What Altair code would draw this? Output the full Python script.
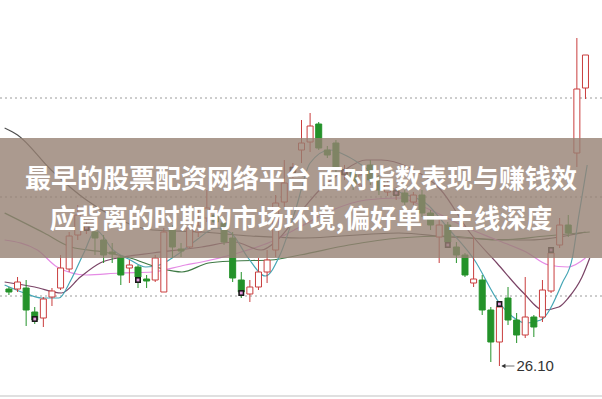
import altair as alt
import pandas as pd

# ---------------- data ----------------
opens = [26.87, 26.87, 26.88, 26.64, 26.58, 26.79, 26.88, 27.07, 27.41, 27.46,
         27.44, 27.36, 27.24, 27.19, 27.08, 27.09, 26.97, 26.96, 26.84, 27.46,
         27.27, 27.29, 27.44, 27.58, 27.61, 27.53, 27.38, 26.96, 26.82, 26.89,
         27.04, 27.26, 27.74, 28.04, 28.26, 28.34, 28.52, 28.26, 28.33, 28.01,
         28.04, 27.91, 28.11, 27.96, 27.84, 27.81, 27.83, 27.74, 27.81, 27.63,
         27.39, 27.51, 27.29, 27.21, 26.93, 26.96, 26.66, 26.34, 26.78, 26.56,
         26.41, 26.59, 26.59, 26.85, 27.31, 27.51, 28.23, 28.88]
closes = [26.84, 26.94, 26.66, 26.56, 26.77, 26.85, 27.08, 27.40, 27.61, 27.50,
          27.38, 27.21, 27.22, 27.01, 27.11, 26.99, 26.95, 27.18, 27.44, 27.29,
          27.25, 27.48, 27.50, 27.68, 27.54, 27.34, 26.98, 26.84, 26.89, 27.04,
          27.16, 27.73, 27.93, 28.09, 28.33, 28.50, 28.28, 28.21, 28.08, 28.06,
          27.91, 28.01, 27.96, 27.86, 27.91, 27.85, 27.74, 27.81, 27.63, 27.51,
          27.51, 27.34, 27.21, 27.01, 26.97, 26.66, 26.34, 26.69, 26.56, 26.41,
          26.59, 26.49, 26.86, 27.23, 27.51, 27.43, 28.87, 29.21]
highs = [26.89, 26.99, 26.96, 26.69, 26.79, 26.88, 27.21, 27.44, 27.71, 27.54,
         27.48, 27.41, 27.33, 27.21, 27.16, 27.11, 27.01, 27.21, 27.48, 27.51,
         27.33, 27.51, 27.66, 27.86, 27.66, 27.58, 27.44, 27.04, 26.96, 27.18,
         27.26, 27.81, 28.16, 28.13, 28.56, 28.63, 28.54, 28.30, 28.36, 28.11,
         28.08, 28.06, 28.16, 28.01, 27.96, 27.89, 27.86, 27.84, 27.86, 27.66,
         27.59, 27.54, 27.34, 27.23, 27.39, 27.01, 26.69, 26.74, 26.89, 26.63,
         26.99, 26.61, 26.96, 27.29, 27.58, 27.61, 29.38, 29.21]
lows = [26.81, 26.84, 26.50, 26.52, 26.49, 26.70, 26.86, 27.04, 27.36, 27.42,
        27.21, 27.13, 27.13, 26.91, 26.93, 26.88, 26.88, 26.94, 26.84, 27.18,
        27.19, 27.28, 27.39, 27.54, 27.48, 27.31, 26.94, 26.78, 26.74, 26.86,
        26.93, 27.19, 27.69, 27.98, 28.13, 28.24, 28.26, 28.18, 28.04, 27.96,
        27.86, 27.86, 27.91, 27.81, 27.80, 27.76, 27.71, 27.71, 27.59, 27.46,
        27.13, 27.28, 27.13, 26.99, 26.89, 26.61, 26.14, 26.10, 26.51, 26.33,
        26.38, 26.39, 26.54, 26.83, 27.28, 27.39, 28.09, 28.77]

teal_idx = [-0.5, 1.8, 3.8, 5.8, 7.2, 8.7, 10.1, 12.1, 14.1, 15.9, 17.5, 19.5, 21.8,
            24.1, 25.8, 27.8, 29.8, 31.5, 33.3, 35.0, 37.3, 39.5, 41.8, 44.9, 48.7,
            51.0, 54.1, 57.0, 60.1, 61.8, 64.3, 65.5, 66.2, 67.2]
teal_val = [26.91, 26.83, 26.78, 26.78, 26.96, 27.23, 27.46, 27.26, 27.16, 27.09,
            27.11, 27.21, 27.36, 27.48, 27.43, 27.18, 27.00, 27.21, 27.66, 28.13,
            28.26, 28.19, 28.06, 27.86, 27.71, 27.48, 27.16, 26.73, 26.53, 26.56,
            26.93, 27.19, 27.59, 28.11]

purple_idx = [-0.5, 3.0, 6.1, 8.3, 10.6, 13.3, 16.7, 22.4, 26.2, 29.3, 31.2, 33.8,
              36.1, 38.7, 41.5, 43.3, 46.4, 50.2, 53.6, 56.7, 59.8, 62.1, 63.9,
              65.0, 66.6, 67.5]
purple_val = [26.94, 26.89, 26.83, 26.99, 27.13, 27.19, 27.23, 27.29, 27.34, 27.26,
              27.36, 27.63, 27.86, 28.04, 28.16, 28.16, 28.09, 27.86, 27.43, 27.13,
              26.83, 26.66, 26.69, 26.78, 26.99, 27.18]

pink_idx = [-0.5, 3.3, 5.6, 9.0, 12.9, 16.7, 20.5, 22.4, 27.0, 30.4, 33.8, 37.6,
            41.5, 45.3, 49.0, 53.3, 56.7, 60.1, 62.7, 65.0, 67.0]
pink_val = [27.36, 27.26, 27.09, 27.01, 27.03, 27.04, 27.11, 27.14, 27.24, 27.34,
            27.49, 27.66, 27.76, 27.78, 27.66, 27.48, 27.36, 27.24, 27.11, 27.09,
            27.18]

green_idx = [-0.5, 4.1, 7.2, 11.0, 14.1, 17.5, 20.1, 23.2, 26.2, 30.4, 33.8, 39.5,
             45.3, 51.0, 56.7, 62.4, 67.5]
green_val = [27.63, 27.43, 27.29, 27.24, 27.18, 27.08, 27.04, 27.13, 27.15, 27.16,
             27.21, 27.31, 27.38, 27.40, 27.36, 27.40, 27.44]

gray_idx = [-0.5, 1.0, 4.9, 9.0, 11.8, 16.7, 22.4, 28.1, 33.8, 45.3, 51.0, 60.5, 67.0]
gray_val = [28.48, 28.41, 28.06, 27.76, 27.61, 27.46, 27.44, 27.40, 27.38, 27.43,
            27.39, 27.36, 27.44]

marker_idx = [3, 9, 15, 27, 33, 39, 45, 51, 57, 63]
marker_val = [26.57, 27.48, 26.96, 26.83, 28.06, 28.04, 27.83, 27.31, 26.72, 27.26]

grid_vals = [28.78, 27.79, 26.80]

low_idx = [57]
low_val = [26.10]
low_text = ["26.10"]

title_lines = ["最早的股票配资网络平台 面对指数表现与赚钱效",
               "应背离的时期的市场环境,偏好单一主线深度"]

# ---------------- styling ----------------
RED = "#c93d3d"
GREEN = "#24922a"
W, H = 602, 399

candles = pd.DataFrame({"i": list(range(len(opens))), "o": opens, "c": closes,
                        "h": highs, "l": lows})

xs = alt.Scale(domain=[-0.457, 68.34], nice=False, zero=False)
ys = alt.Scale(domain=[25.77, 29.76], nice=False, zero=False)
X = alt.X("i:Q", scale=xs, axis=None)
Yv = alt.Y("v:Q", scale=ys, axis=None)

up = "datum.c >= datum.o"

grid = alt.Chart(pd.DataFrame({"v": grid_vals})).mark_rule(
    color="#9a9a9a", strokeDash=[2, 3], strokeWidth=1
).encode(y=Yv)

bottom = alt.Chart(pd.DataFrame({"v": [0]})).mark_rule(
    color="#d6d6d6", strokeWidth=1.5
).encode(y=alt.value(396), x=alt.value(0), x2=alt.value(W))

rows = []
for name, ii, vv in [("gray", gray_idx, gray_val), ("green", green_idx, green_val),
                     ("pink", pink_idx, pink_val), ("purple", purple_idx, purple_val),
                     ("teal", teal_idx, teal_val)]:
    for a, b in zip(ii, vv):
        rows.append({"s": name, "i": a, "v": b})
ma = pd.DataFrame(rows)

lines = alt.Chart(ma).mark_line(strokeWidth=1.2, interpolate="monotone").encode(
    x=X,
    y=Yv,
    color=alt.Color("s:N", legend=None, scale=alt.Scale(
        domain=["gray", "green", "pink", "purple", "teal"],
        range=["#505050", "#3f7a45", "#e58be5", "#7a4466", "#45a6b5"])),
    detail="s:N",
)

wicks = alt.Chart(candles).mark_rule(strokeWidth=1).encode(
    x=X,
    y=alt.Y("l:Q", scale=ys, axis=None),
    y2="h:Q",
    color=alt.condition(up, alt.value(RED), alt.value(GREEN)),
)

bodies = alt.Chart(candles).mark_bar(size=6, strokeWidth=1).encode(
    x=X,
    y=alt.Y("o:Q", scale=ys, axis=None),
    y2="c:Q",
    fill=alt.condition(up, alt.value("#ffffff"), alt.value(GREEN)),
    stroke=alt.condition(up, alt.value(RED), alt.value(GREEN)),
)

mk = pd.DataFrame({"i": marker_idx, "v": marker_val})
markers = alt.Chart(mk).mark_square(size=36, color="#1a1a1a", opacity=1).encode(
    x=X, y=Yv)
markers_in = alt.Chart(mk).mark_square(size=8, color="#e59be0", opacity=1).encode(
    x=X, y=Yv)

banner = alt.Chart(pd.DataFrame({"v": [0]})).mark_rect(
    fill="#968173", opacity=0.8
).encode(x=alt.value(0), x2=alt.value(W), y=alt.value(138), y2=alt.value(258))

t1 = alt.Chart(pd.DataFrame({"t": [title_lines[0]]})).mark_text(
    font="Noto Sans CJK SC", fontSize=26, fontWeight="bold", color="white",
    align="center", baseline="middle"
).encode(text="t:N", x=alt.value(W / 2), y=alt.value(180))
t2 = alt.Chart(pd.DataFrame({"t": [title_lines[1]]})).mark_text(
    font="Noto Sans CJK SC", fontSize=26, fontWeight="bold", color="white",
    align="center", baseline="middle"
).encode(text="t:N", x=alt.value(W / 2), y=alt.value(220))

low_df = pd.DataFrame({"i": low_idx, "v": low_val, "t": low_text})
arrow_shaft = alt.Chart(low_df).mark_tick(
    orient="horizontal", size=12, thickness=1, color="#333333", xOffset=9
).encode(x=X, y=Yv)
arrow_head = alt.Chart(low_df).mark_point(
    shape="triangle-left", filled=True, size=22, color="#333333", opacity=1, xOffset=4
).encode(x=X, y=Yv)
low_lbl = alt.Chart(low_df).mark_text(
    font="Liberation Sans, Arial, sans-serif", fontSize=15, color="#333333",
    align="left", baseline="middle", dx=17
).encode(x=X, y=Yv, text="t:N")

chart = alt.layer(
    grid, bottom, lines, wicks, bodies, markers, markers_in, banner, t1, t2,
    arrow_shaft, arrow_head, low_lbl
).properties(
    width=W, height=H, padding=0, autosize=alt.AutoSizeParams(type="none"),
    background="white"
).configure_view(stroke=None)

chart.save("out.html", embed_options={"renderer": "svg", "actions": False})
